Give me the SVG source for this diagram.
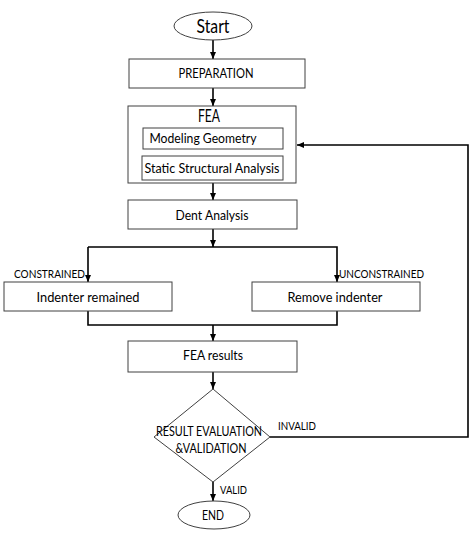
<svg xmlns="http://www.w3.org/2000/svg" width="472" height="534" viewBox="0 0 472 534">
<style>
.box{fill:#fff;stroke:#404040;stroke-width:1}
.c{fill:none;stroke:#000;stroke-width:1.6}
text{font-family:Lato,"Open Sans","Liberation Sans",sans-serif;fill:#000;text-anchor:middle}
.t{font-size:14px}
.d{font-size:13px}
.l{font-size:11.5px;text-anchor:start}
</style>
<defs>
<marker id="ah" markerUnits="userSpaceOnUse" markerWidth="8" markerHeight="8" refX="7" refY="4" orient="auto">
<path d="M0,1 L7,4 L0,7 Z" fill="#000"/>
</marker>
</defs>
<rect width="472" height="534" fill="#fff"/>
<g id="connectors">
<line class="c" x1="213" y1="40" x2="213" y2="59" marker-end="url(#ah)"/>
<line class="c" x1="213" y1="88" x2="213" y2="106" marker-end="url(#ah)"/>
<line class="c" x1="213" y1="183" x2="213" y2="200" marker-end="url(#ah)"/>
<line class="c" x1="213" y1="229" x2="213" y2="247" marker-end="url(#ah)"/>
<polyline class="c" points="88,247 337,247 337,282" marker-end="url(#ah)"/>
<line class="c" x1="88" y1="247" x2="88" y2="282" marker-end="url(#ah)"/>
<polyline class="c" points="88,311 88,325 337,325 337,311"/>
<line class="c" x1="213" y1="325" x2="213" y2="341" marker-end="url(#ah)"/>
<line class="c" x1="213" y1="372" x2="213" y2="389" marker-end="url(#ah)"/>
<line class="c" x1="213" y1="482" x2="213" y2="501" marker-end="url(#ah)"/>
<polyline class="c" points="270,437 468,437 468,145 297,145" marker-end="url(#ah)"/>
</g>
<g id="start">
<ellipse class="box" cx="213" cy="26" rx="39" ry="14"/>
<text x="213" y="33" style="font-size:20px" textLength="33" lengthAdjust="spacingAndGlyphs">Start</text>
</g>
<g id="preparation">
<rect class="box" x="129" y="59" width="176" height="29"/>
<text class="t" x="216" y="78" textLength="75" lengthAdjust="spacingAndGlyphs">PREPARATION</text>
</g>
<g id="fea">
<rect class="box" x="128" y="106" width="168" height="77"/>
<text x="209" y="122" style="font-size:17px" textLength="22" lengthAdjust="spacingAndGlyphs">FEA</text>
</g>
<g id="modeling">
<rect class="box" x="143" y="128" width="140" height="21"/>
<text class="t" x="203" y="143" textLength="107" lengthAdjust="spacingAndGlyphs">Modeling Geometry</text>
</g>
<g id="static">
<rect class="box" x="142" y="156" width="141" height="24"/>
<text class="t" x="212" y="173" textLength="135" lengthAdjust="spacingAndGlyphs">Static Structural Analysis</text>
</g>
<g id="dent">
<rect class="box" x="128" y="200" width="169" height="29"/>
<text class="t" x="212" y="220" textLength="73" lengthAdjust="spacingAndGlyphs">Dent Analysis</text>
</g>
<g id="indenter-remained">
<rect class="box" x="4" y="282" width="168" height="29"/>
<text class="t" x="88" y="302" textLength="103" lengthAdjust="spacingAndGlyphs">Indenter remained</text>
<text class="l" x="14" y="278" textLength="71" lengthAdjust="spacingAndGlyphs">CONSTRAINED</text>
</g>
<g id="remove-indenter">
<rect class="box" x="252" y="282" width="168" height="29"/>
<text class="t" x="335" y="302" textLength="95" lengthAdjust="spacingAndGlyphs">Remove indenter</text>
<text class="l" x="339" y="278" textLength="85" lengthAdjust="spacingAndGlyphs">UNCONSTRAINED</text>
</g>
<g id="fea-results">
<rect class="box" x="128" y="341" width="169" height="31"/>
<text class="t" x="213" y="360" textLength="60" lengthAdjust="spacingAndGlyphs">FEA results</text>
</g>
<g id="evaluation">
<polygon class="box" points="213,389 270,437 213,482 154,437"/>
<text class="d" x="209" y="436" textLength="106" lengthAdjust="spacingAndGlyphs">RESULT EVALUATION</text>
<text class="d" x="211" y="453" textLength="71" lengthAdjust="spacingAndGlyphs">&amp;VALIDATION</text>
<text class="l" x="278" y="430" textLength="38" lengthAdjust="spacingAndGlyphs">INVALID</text>
<text class="l" x="220" y="494" textLength="27" lengthAdjust="spacingAndGlyphs">VALID</text>
</g>
<g id="end">
<ellipse class="box" cx="214" cy="515" rx="36" ry="14"/>
<text class="t" x="213" y="520" textLength="22" lengthAdjust="spacingAndGlyphs">END</text>
</g>
</svg>
